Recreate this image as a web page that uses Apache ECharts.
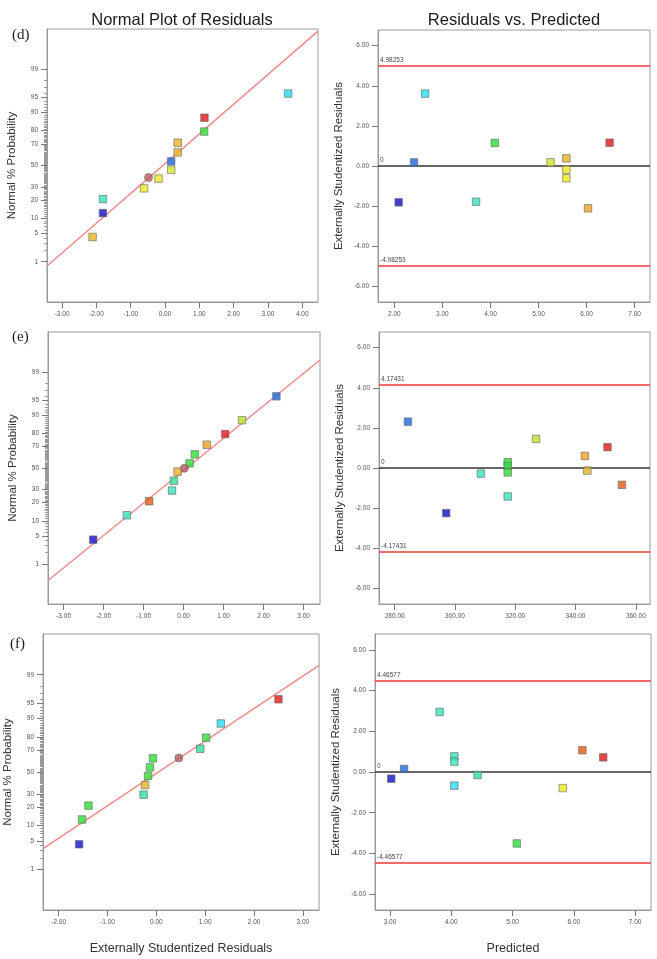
<!DOCTYPE html>
<html><head><meta charset="utf-8">
<script src="https://cdn.jsdelivr.net/npm/echarts@6/dist/echarts.min.js"></script>
<style>html,body{margin:0;padding:0;background:#fff}#c{width:657px;height:959px}</style>
</head><body><div id="c"></div>
<script>
// ---------- tick labels ----------
const probLabels = [1, 5, 10, 20, 30, 50, 70, 80, 90, 95, 99];
const probMinor = [];
for (let i = 1; i <= 99; i++) probMinor.push(i);
const residTicks = [-6, -4, -2, 0, 2, 4, 6];
const dNormTicks = [-3, -2, -1, 0, 1, 2, 3, 4];
const eNormTicks = [-3, -2, -1, 0, 1, 2, 3];
const fNormTicks = [-2, -1, 0, 1, 2, 3];
const dPredTicks = [2, 3, 4, 5, 6, 7];
const ePredTicks = [280, 300, 320, 340, 360];
const fPredTicks = [3, 4, 5, 6, 7];

// ---------- panel (d) ----------
const dNormRes = [-2.11, -1.81, -1.81, -0.61, -0.19, 0.18, 0.18, 0.37, 0.37, 1.14, 1.15, 3.59];
const dNormPct = [4.2, 12.5, 20.8, 29.0, 37.6, 45.8, 54.0, 62.4, 70.9, 79.4, 87.6, 95.9];
const dMarkRes = [-0.48];
const dMarkPct = [38.5];
const dLineRes = [-3.44, 4.46];
const dLineZ = [-2.43, 3.25];
const dPred = [2.09, 2.41, 2.64, 3.70, 4.09, 5.25, 5.58, 5.58, 5.58, 6.03, 6.48];
const dStud = [-1.81, 0.18, 3.61, -1.78, 1.15, 0.18, 0.38, -0.18, -0.61, -2.11, 1.16];
const dLimit = '4.98253';

// ---------- panel (e) ----------
const eNormRes = [-2.26, -1.42, -0.86, -0.29, -0.24, -0.15, 0.15, 0.28, 0.58, 1.04, 1.46, 2.32];
const eNormPct = [4.1, 12.6, 21.0, 29.2, 37.9, 46.5, 54.5, 63.0, 71.4, 79.5, 87.7, 95.9];
const eMarkRes = [0.02];
const eMarkPct = [49.7];
const eLineRes = [-3.39, 3.41];
const eLineZ = [-2.73, 2.62];
const ePred = [284.4, 297.1, 308.6, 317.5, 317.5, 317.5, 317.5, 326.9, 343.1, 343.9, 350.6, 355.4];
const eStud = [2.31, -2.25, -0.28, 0.29, 0.10, -0.22, -1.42, 1.45, 0.60, -0.13, 1.04, -0.84];
const eLimit = '4.17431';

// ---------- panel (f) ----------
const fNormRes = [-1.58, -1.52, -1.39, -0.26, -0.23, -0.17, -0.13, -0.07, 0.90, 1.02, 1.32, 2.50];
const fNormPct = [4.2, 12.8, 21.1, 29.4, 37.8, 46.2, 54.4, 62.8, 71.1, 79.4, 87.7, 95.9];
const fMarkRes = [0.46];
const fMarkPct = [63.1];
const fLineRes = [-2.32, 3.33];
const fLineZ = [-1.83, 2.55];
const fPred = [3.02, 3.23, 3.81, 4.05, 4.05, 4.05, 4.43, 5.07, 5.82, 6.14, 6.48];
const fStud = [-0.33, 0.15, 2.95, 0.77, 0.51, -0.67, -0.15, -3.51, -0.79, 1.07, 0.72];
const fLimit = '4.46577';

// ---------- styles ----------
const C = {
  dblue: '#1010c8', blue: '#1f68dc', cyan: '#24dced', teal: '#34e2bc', aqua: '#30e098',
  green: '#2ade36', lime: '#b4e424', ylgr: '#d6e424', yellow: '#ece820', gold: '#e6b422',
  orange: '#eca020', ored: '#e25a12', red: '#e01818'
};
const dNormCol = [C.gold, C.dblue, C.teal, C.yellow, C.yellow, C.ylgr, C.blue, C.gold, C.gold, C.green, C.red, C.cyan];
const dPredCol = [C.dblue, C.blue, C.cyan, C.teal, C.green, C.ylgr, C.gold, C.yellow, C.yellow, C.orange, C.red];
const eNormCol = [C.dblue, C.teal, C.ored, C.teal, C.aqua, C.gold, C.green, C.green, C.orange, C.red, C.lime, C.blue];
const ePredCol = [C.blue, C.dblue, C.teal, C.green, C.green, C.green, C.teal, C.lime, C.orange, C.gold, C.red, C.ored];
const fNormCol = [C.dblue, C.green, C.green, C.aqua, C.gold, C.green, C.green, C.green, C.aqua, C.green, C.cyan, C.red];
const fPredCol = [C.dblue, C.blue, C.teal, C.teal, C.teal, C.cyan, C.aqua, C.green, C.yellow, C.ored, C.red];

function normInv(p) {
  const a = [-3.969683028665376e+01, 2.209460984245205e+02, -2.759285104469687e+02, 1.383577518672690e+02, -3.066479806614716e+01, 2.506628277459239e+00];
  const b = [-5.447609879822406e+01, 1.615858368580409e+02, -1.556989798598866e+02, 6.680131188771972e+01, -1.328068155288572e+01];
  const c = [-7.784894002430293e-03, -3.223964580411365e-01, -2.400758277161838e+00, -2.549732539343734e+00, 4.374664141464968e+00, 2.938163982698783e+00];
  const d = [7.784695709041462e-03, 3.224671290700398e-01, 2.445134137142996e+00, 3.754408661907416e+00];
  const pl = 0.02425, ph = 1 - pl; let q, r;
  if (p < pl) { q = Math.sqrt(-2 * Math.log(p)); return (((((c[0]*q+c[1])*q+c[2])*q+c[3])*q+c[4])*q+c[5]) / ((((d[0]*q+d[1])*q+d[2])*q+d[3])*q+1); }
  if (p <= ph) { q = p - 0.5; r = q*q; return (((((a[0]*r+a[1])*r+a[2])*r+a[3])*r+a[4])*r+a[5])*q / (((((b[0]*r+b[1])*r+b[2])*r+b[3])*r+b[4])*r+1); }
  q = Math.sqrt(-2 * Math.log(1 - p)); return -(((((c[0]*q+c[1])*q+c[2])*q+c[3])*q+c[4])*q+c[5]) / ((((d[0]*q+d[1])*q+d[2])*q+d[3])*q+1);
}
const zOf = pct => normInv(pct / 100);

const FONT = 'Liberation Sans, Arial, sans-serif';
const AX = '#9a9a9a';
const TICKLBL = { fontSize: 6.5, color: '#555', fontFamily: FONT, margin: 9 };

const grids = [
  { left: 47, top: 29, width: 271, height: 273 },
  { left: 378, top: 30, width: 272, height: 272 },
  { left: 48, top: 332, width: 272, height: 272 },
  { left: 379, top: 332, width: 271, height: 272 },
  { left: 43, top: 634, width: 276, height: 276 },
  { left: 375, top: 634, width: 276, height: 276 }
].map(g => Object.assign({ show: true, borderColor: AX, borderWidth: 1, backgroundColor: '#fff' }, g));

const xAxes = [], yAxes = [], series = [];

function valueX(grid, min, max, ticks, name) {
  xAxes.push({
    type: 'value', gridIndex: grid, min: min, max: max,
    axisLine: { show: true, onZero: false, lineStyle: { color: AX } },
    axisTick: { show: true, customValues: ticks, length: 6, lineStyle: { color: '#777' } },
    axisLabel: Object.assign({ customValues: ticks, formatter: v => v.toFixed(2) }, TICKLBL),
    splitLine: { show: false },
    name: name || '', nameLocation: 'middle', nameGap: 32,
    nameTextStyle: { fontSize: 12.5, color: '#333', fontFamily: FONT }
  });
  return xAxes.length - 1;
}

function probY(grid) {
  const majorZ = probLabels.map(zOf);
  yAxes.push({
    type: 'value', gridIndex: grid, min: -3.3, max: 3.3,
    axisLine: { show: true, onZero: false, lineStyle: { color: AX } },
    axisTick: { show: true, customValues: probMinor.map(zOf), length: 3, lineStyle: { color: '#999' } },
    axisLabel: Object.assign({
      customValues: majorZ,
      formatter: v => {
        let best = 0, bd = 1e9;
        majorZ.forEach((z, i) => { const dd = Math.abs(z - v); if (dd < bd) { bd = dd; best = i; } });
        return String(probLabels[best]);
      }
    }, TICKLBL),
    splitLine: { show: false },
    name: 'Normal % Probability', nameLocation: 'middle', nameGap: 29,
    nameTextStyle: { fontSize: 11.5, color: '#333', fontFamily: FONT }
  });
  const idx = yAxes.length - 1;
  yAxes.push({
    type: 'value', gridIndex: grid, min: -3.3, max: 3.3, position: 'left',
    axisLine: { show: false, onZero: false },
    axisTick: { show: true, customValues: majorZ, length: 6, lineStyle: { color: '#777' } },
    axisLabel: { show: false }, splitLine: { show: false }
  });
  return idx;
}

function residY(grid) {
  yAxes.push({
    type: 'value', gridIndex: grid, min: -6.78, max: 6.78,
    axisLine: { show: true, onZero: false, lineStyle: { color: AX } },
    axisTick: { show: true, customValues: residTicks, length: 6, lineStyle: { color: '#777' } },
    axisLabel: Object.assign({ customValues: residTicks, formatter: v => v.toFixed(2) }, TICKLBL),
    splitLine: { show: false },
    name: 'Externally Studentized Residuals', nameLocation: 'middle', nameGap: 33.5,
    nameTextStyle: { fontSize: 11.5, color: '#333', fontFamily: FONT }
  });
  return yAxes.length - 1;
}

function sq(color) {
  return { color: color, borderColor: '#6a6a6a', borderWidth: 0.8 };
}

function normPanel(grid, xmin, xmax, ticks, res, pct, cols, mRes, mPct, lRes, lZ, xname) {
  const xi = valueX(grid, xmin, xmax, ticks, xname);
  const yi = probY(grid);
  series.push({
    type: 'line', xAxisIndex: xi, yAxisIndex: yi, symbol: 'none', silent: true, z: 1,
    lineStyle: { color: '#f08a8a', width: 1.5 },
    data: lRes.map((x, i) => [x, lZ[i]])
  });
  series.push({
    type: 'scatter', xAxisIndex: xi, yAxisIndex: yi, symbol: 'rect', symbolSize: 7.5, z: 3,
    data: res.map((x, i) => ({ value: [x, zOf(pct[i])], itemStyle: sq(cols[i]) }))
  });
  series.push({
    type: 'scatter', xAxisIndex: xi, yAxisIndex: yi, symbol: 'circle', symbolSize: 8, z: 4,
    itemStyle: { color: '#b45c5c', borderColor: '#6a6a6a', borderWidth: 0.8 },
    data: mRes.map((x, i) => [x, zOf(mPct[i])])
  });
}

function predPanel(grid, xmin, xmax, ticks, pred, stud, cols, limitText, xname) {
  const xi = valueX(grid, xmin, xmax, ticks, xname);
  const yi = residY(grid);
  const limit = parseFloat(limitText);
  const lbl = txt => ({ show: true, position: 'insideStartTop', distance: 2, fontSize: 6.5, color: '#444', fontFamily: FONT, formatter: () => txt });
  series.push({
    type: 'scatter', xAxisIndex: xi, yAxisIndex: yi, symbol: 'rect', symbolSize: 7.5, z: 3,
    data: pred.map((x, i) => ({ value: [x, stud[i]], itemStyle: sq(cols[i]) })),
    markLine: {
      silent: true, symbol: 'none', animation: false, z: 1, precision: 5,
      data: [
        { yAxis: limit, lineStyle: { color: '#ee3a3a', width: 1.5, type: 'solid' }, label: lbl(limitText) },
        { yAxis: 0, lineStyle: { color: '#333', width: 1.5, type: 'solid' }, label: lbl('0') },
        { yAxis: -limit, lineStyle: { color: '#ee3a3a', width: 1.5, type: 'solid' }, label: lbl('-' + limitText) }
      ]
    }
  });
}

normPanel(0, -3.44, 4.46, dNormTicks, dNormRes, dNormPct, dNormCol, dMarkRes, dMarkPct, dLineRes, dLineZ);
predPanel(1, 1.66, 7.32, dPredTicks, dPred, dStud, dPredCol, dLimit);
normPanel(2, -3.39, 3.41, eNormTicks, eNormRes, eNormPct, eNormCol, eMarkRes, eMarkPct, eLineRes, eLineZ);
predPanel(3, 274.8, 364.7, ePredTicks, ePred, eStud, ePredCol, eLimit);
normPanel(4, -2.32, 3.33, fNormTicks, fNormRes, fNormPct, fNormCol, fMarkRes, fMarkPct, fLineRes, fLineZ, 'Externally Studentized Residuals');
predPanel(5, 2.755, 7.26, fPredTicks, fPred, fStud, fPredCol, fLimit, 'Predicted');

const txt = (x, y, s, size, fam, align) => ({
  type: 'text', x: x, y: y, silent: true,
  style: { text: s, fontSize: size, fontFamily: fam, fill: '#1a1a1a', textAlign: align || 'center', textVerticalAlign: 'middle' }
});

const chart = echarts.init(document.getElementById('c'), null, { renderer: 'canvas' });
chart.setOption({
  animation: false,
  backgroundColor: '#fff',
  grid: grids,
  xAxis: xAxes,
  yAxis: yAxes,
  series: series,
  graphic: [
    txt(182, 20, 'Normal Plot of Residuals', 16.5, FONT),
    txt(514, 20, 'Residuals vs. Predicted', 16.5, FONT),
    txt(12, 35, '(d)', 15, 'Liberation Serif, Times New Roman, serif', 'left'),
    txt(12, 337, '(e)', 15, 'Liberation Serif, Times New Roman, serif', 'left'),
    txt(10, 644, '(f)', 15, 'Liberation Serif, Times New Roman, serif', 'left')
  ]
});
</script></body></html>
